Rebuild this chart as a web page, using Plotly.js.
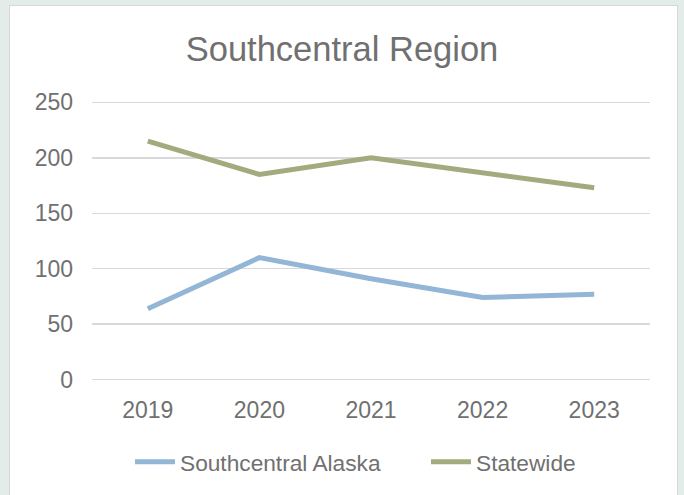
<!DOCTYPE html>
<html>
<head>
<meta charset="utf-8">
<script src="https://cdn.plot.ly/plotly-3.0.1.min.js"></script>
<style>
  html, body { margin: 0; padding: 0; width: 684px; height: 495px; overflow: hidden; background: #E3ECE8; }
  #panel { position: absolute; left: 9px; top: 5px; width: 669px; height: 500px; background: #ffffff; border: 1px solid #D6D9D7; box-sizing: border-box; }
  #chart { position: absolute; left: 0; top: 0; width: 684px; height: 495px; }
</style>
</head>
<body>
<div id="panel"></div>
<div id="chart"></div>
<script>
const years = ['2019', '2020', '2021', '2022', '2023'];
const southcentral = [64, 110, 91, 74, 77];
const statewide = [215, 185, 200, 187, 173];
const yTicks = [0, 50, 100, 150, 200, 250];

const txt = '#707070';
const traces = [
  { x: years, y: southcentral, name: 'Southcentral Alaska', type: 'scatter', mode: 'lines',
    line: { color: '#93B5D6', width: 5 }, legend: 'legend' },
  { x: years, y: statewide, name: 'Statewide', type: 'scatter', mode: 'lines',
    line: { color: '#A2AB7E', width: 5 }, legend: 'legend2' }
];

const legendBase = {
  orientation: 'h', xref: 'container', xanchor: 'left',
  y: 1 - 462/495, yref: 'container', yanchor: 'middle',
  font: { size: 22.7, color: txt }, itemwidth: 40, bgcolor: 'rgba(0,0,0,0)'
};

const layout = {
  width: 684, height: 495,
  paper_bgcolor: 'rgba(0,0,0,0)', plot_bgcolor: 'rgba(0,0,0,0)',
  margin: { l: 92, r: 34, t: 99, b: 112 },
  font: { family: 'Liberation Sans, Arial, sans-serif', color: txt },
  title: { text: 'Southcentral Region', font: { size: 34.5, color: txt },
           x: 0.5, xref: 'container', xanchor: 'center', y: 1 - 49/495, yref: 'container', yanchor: 'middle' },
  xaxis: { type: 'category', range: [-0.5, 4.5], showgrid: false, zeroline: false, showline: false,
           ticks: '', tickfont: { size: 23, color: txt }, ticklabelstandoff: 11, fixedrange: true },
  yaxis: { range: [-3, 253], tickvals: yTicks, ticktext: yTicks.map(String), showgrid: true,
           gridcolor: '#D9D9D9', gridwidth: 1.5, zeroline: false, showline: false, ticks: '',
           tickfont: { size: 23, color: txt }, ticklabelstandoff: 18, fixedrange: true },
  showlegend: true,
  legend: Object.assign({}, legendBase, { x: 130/684 }),
  legend2: Object.assign({}, legendBase, { x: 426/684 })
};

Plotly.newPlot('chart', traces, layout, { displayModeBar: false, staticPlot: true });
</script>
</body>
</html>
